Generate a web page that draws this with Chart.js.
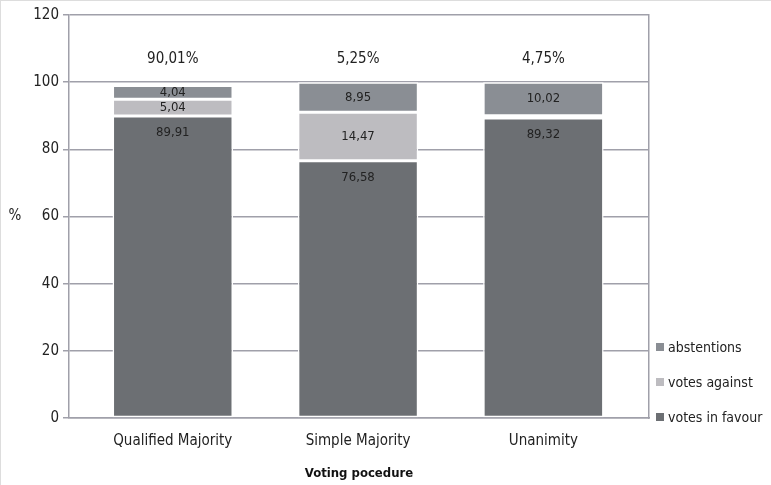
<!DOCTYPE html>
<html>
<head>
<meta charset="utf-8">
<script src="https://cdn.jsdelivr.net/npm/chart.js@4"></script>
<style>
  html, body { margin: 0; padding: 0; background: #fff; }
  #wrap { position: relative; width: 771px; height: 485px; box-sizing: border-box; border-left: 1px solid #ddd; border-top: 1px solid #ddd; }
  #legend { position: absolute; left: 655px; top: 338px; font-family: 'Liberation Sans Narrow', 'DejaVu Sans Condensed', sans-serif; font-size: 14px; color: #222; }
  #legend div { height: 35px; line-height: 16px; white-space: nowrap; }
  #legend span { display: inline-block; width: 8px; height: 8px; margin-right: 4px; vertical-align: 1px; }
</style>
</head>
<body>
<div id="wrap">
  <canvas id="chart" width="770" height="484"></canvas>
  <div id="legend"></div>
</div>
<script>
// voting outcomes by procedure (percent of votes)
const procedures = ['Qualified Majority', 'Simple Majority', 'Unanimity'];
const inFavour = [89.91, 76.58, 89.32];
const against = [5.04, 14.47, 0.66];
const abstentions = [4.04, 8.95, 10.02];
const shareOfActs = ['90,01%', '5,25%', '4,75%'];
const yTicks = [0, 20, 40, 60, 80, 100, 120];

const seriesNames = ['votes in favour', 'votes against', 'abstentions'];
const seriesColors = ['#6c6f73', '#bdbcc0', '#8a8e94'];
const seriesData = [inFavour, against, abstentions];

const FONT = "'Liberation Sans Narrow', 'DejaVu Sans Condensed', sans-serif";
const axisColor = '#a0a0aa';

const fmt = v => v.toFixed(2).replace('.', ',');

// labels inside each segment, the share above each bar and the '%' axis name
const barLabels = {
  id: 'barLabels',
  afterDatasetsDraw(chart) {
    const ctx = chart.ctx;
    const y = chart.scales.y;
    ctx.save();
    ctx.textAlign = 'center';
    ctx.textBaseline = 'middle';
    ctx.fillStyle = '#222';
    chart.data.datasets.forEach((ds, di) => {
      const meta = chart.getDatasetMeta(di);
      meta.data.forEach((bar, i) => {
        const v = ds.data[i].y;
        if (v < 2) return;
        ctx.font = '13px ' + FONT;
        const mid = (bar.y + bar.base) / 2;
        // favour labels sit near the top of the segment
        const ty = di === 0 ? bar.y + 17 : mid;
        ctx.fillText(fmt(v), bar.x, ty);
      });
    });
    ctx.font = '15px ' + FONT;
    chart.getDatasetMeta(0).data.forEach((bar, i) => {
      ctx.fillText(shareOfActs[i], bar.x, y.getPixelForValue(107));
    });
    ctx.fillText('%', 14, y.getPixelForValue(60));
    ctx.restore();
  }
};

new Chart(document.getElementById('chart'), {
  type: 'bar',
  data: {
    datasets: seriesNames.map((name, i) => ({
      label: name,
      data: seriesData[i].map((v, k) => ({ x: k, y: v })),
      backgroundColor: seriesColors[i],
      borderColor: '#fff',
      borderWidth: 1.5,
      borderSkipped: false,
      barPercentage: 0.65,
      categoryPercentage: 1
    }))
  },
  options: {
    responsive: false,
    animation: false,
    layout: { padding: { left: 4, right: 122, top: 14, bottom: 0 } },
    plugins: { legend: { display: false }, tooltip: { enabled: false } },
    scales: {
      x: {
        type: 'linear',
        stacked: true,
        offset: false,
        min: -0.56,
        max: 2.57,
        afterBuildTicks(s) { s.ticks = procedures.map((p, k) => ({ value: k })); },
        grid: { display: false },
        border: { color: axisColor, width: 1.5 },
        ticks: { color: '#222', font: { family: FONT, size: 15 }, padding: 6, callback: v => procedures[v] },
        title: { display: true, text: 'Voting pocedure', color: '#111', font: { family: FONT, size: 13, weight: 'bold' }, padding: { top: 22 } },
        afterFit(s) { s.height = 67; }
      },
      y: {
        stacked: true,
        min: 0,
        max: 120,
        afterBuildTicks(s) { s.ticks = yTicks.map(v => ({ value: v })); },
        grid: { color: axisColor, lineWidth: 1.5, tickLength: 6 },
        border: { color: axisColor, width: 1.5 },
        ticks: { color: '#222', font: { family: FONT, size: 15 }, padding: 4 },
        afterFit(s) { s.width = 64; }
      },
      y2: {
        position: 'right',
        min: 0,
        max: 120,
        grid: { display: false },
        ticks: { display: false },
        border: { color: axisColor, width: 1.5 },
        afterFit(s) { s.width = 0; }
      }
    }
  },
  plugins: [barLabels]
});

// legend listed top-down from the last stacked series
const legend = document.getElementById('legend');
seriesNames.slice().reverse().forEach((name, k) => {
  const i = seriesNames.length - 1 - k;
  const row = document.createElement('div');
  row.innerHTML = '<span style="background:' + seriesColors[i] + '"></span>' + name;
  legend.appendChild(row);
});
</script>
</body>
</html>
